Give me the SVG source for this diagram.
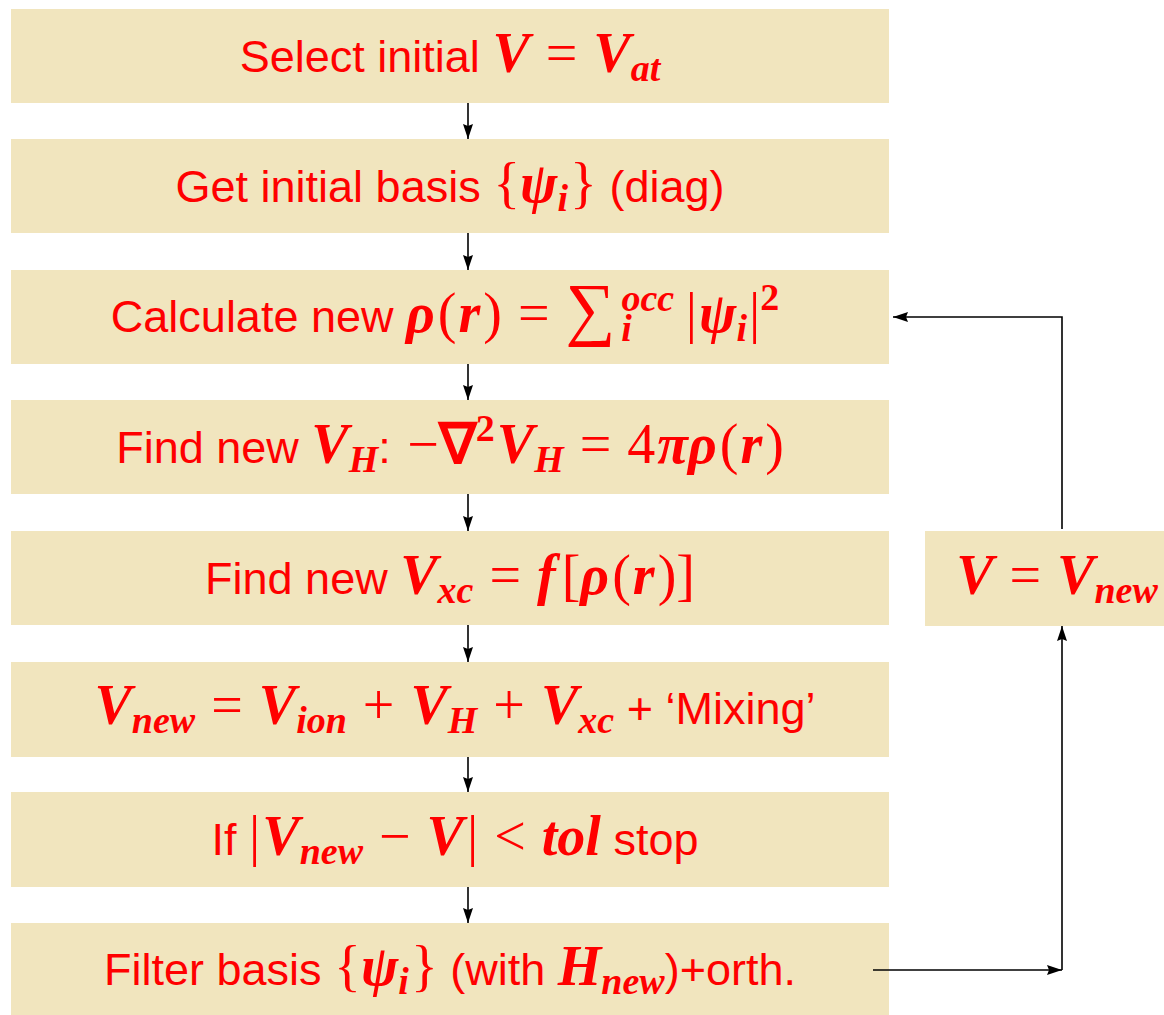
<svg xmlns="http://www.w3.org/2000/svg" width="1164" height="1015" viewBox="0 0 1164 1015">
<style>
.box{fill:#F1E5BE}
.t{font-family:"Liberation Sans",Arial,sans-serif;font-size:45px;fill:#FF0000;text-anchor:middle}
.m{font-family:"Liberation Serif","Times New Roman",serif;font-style:italic;font-weight:bold;font-size:56px}
.r{font-family:"Liberation Serif","Times New Roman",serif;font-style:normal;font-weight:normal;font-size:56px}
.s{font-size:38px}
.c{fill:none;stroke:#000;stroke-width:1.6}
</style>
<defs>
<marker id="ah" markerUnits="userSpaceOnUse" markerWidth="16" markerHeight="12" refX="15" refY="5" orient="auto" viewBox="0 0 16 10">
<path d="M0,0 L15,5 L0,10 L2,5 Z" fill="#000"/>
</marker>
</defs>
<g id="n1"><rect class="box" x="11" y="9" width="878" height="94"/>
<text class="t" x="450" y="72">Select initial <tspan class="m">V</tspan><tspan class="r" dx="16">=</tspan><tspan class="m" dx="16">V</tspan><tspan class="m s" dy="9">at</tspan></text></g>
<g id="n2"><rect class="box" x="11" y="139" width="878" height="94"/>
<text class="t" x="450" y="202">Get initial basis <tspan class="r">{</tspan><tspan class="m">ψ</tspan><tspan class="m s" dy="9">i</tspan><tspan class="r" dy="-9" dx="2">}</tspan> (diag)</text></g>
<g id="n3"><rect class="box" x="11" y="270" width="878" height="94"/>
<text class="t" x="445" y="332">Calculate new <tspan class="m">ρ</tspan><tspan class="r" dx="3">(</tspan><tspan class="m" dx="2">r</tspan><tspan class="r" dx="3">)</tspan><tspan class="r" dx="16">=</tspan><tspan class="r" dx="16" style="font-size:70px">∑</tspan><tspan class="m s" dx="6" dy="-21">occ</tspan><tspan class="m s" dx="-53" dy="30">i</tspan><tspan class="r" dx="54" dy="-9">|</tspan><tspan class="m" dx="2">ψ</tspan><tspan class="m s" dy="9">i</tspan><tspan class="r" dy="-9" dx="2">|</tspan><tspan class="r s" dy="-22" style="font-weight:bold">2</tspan></text></g>
<g id="n4"><rect class="box" x="11" y="400" width="878" height="94"/>
<text class="t" x="450" y="463">Find new <tspan class="m">V</tspan><tspan class="m s" dy="9">H</tspan><tspan dy="-9">: </tspan><tspan class="r" dx="4">−</tspan><tspan class="r" style="font-weight:bold">∇</tspan><tspan class="r s" dy="-22" style="font-weight:bold">2</tspan><tspan class="m" dy="22" dx="2">V</tspan><tspan class="m s" dy="9">H</tspan><tspan class="r" dy="-9" dx="16">=</tspan><tspan class="r" dx="16">4</tspan><tspan class="m" dx="2">πρ</tspan><tspan class="r" dx="3">(</tspan><tspan class="m" dx="2">r</tspan><tspan class="r" dx="3">)</tspan></text></g>
<g id="n5"><rect class="box" x="11" y="531" width="878" height="94"/>
<text class="t" x="450" y="594">Find new <tspan class="m">V</tspan><tspan class="m s" dy="9">xc</tspan><tspan class="r" dy="-9" dx="16">=</tspan><tspan class="m" dx="16">f</tspan><tspan class="r" dx="6">[</tspan><tspan class="m">ρ</tspan><tspan class="r" dx="3">(</tspan><tspan class="m" dx="2">r</tspan><tspan class="r" dx="3">)]</tspan></text></g>
<g id="n6"><rect class="box" x="11" y="662" width="878" height="95"/>
<text class="t" x="455" y="724"><tspan class="m">V</tspan><tspan class="m s" dy="9">new</tspan><tspan class="r" dy="-9" dx="16">=</tspan><tspan class="m" dx="16">V</tspan><tspan class="m s" dy="9">ion</tspan><tspan class="r" dy="-9" dx="16">+</tspan><tspan class="m" dx="16">V</tspan><tspan class="m s" dy="9">H</tspan><tspan class="r" dy="-9" dx="16">+</tspan><tspan class="m" dx="16">V</tspan><tspan class="m s" dy="9">xc</tspan><tspan dy="-9"> + ‘Mixing’</tspan></text></g>
<g id="n7"><rect class="box" x="11" y="792" width="878" height="95"/>
<text class="t" x="455" y="855">If <tspan class="r">|</tspan><tspan class="m" dx="2">V</tspan><tspan class="m s" dy="9">new</tspan><tspan class="r" dy="-9" dx="16">−</tspan><tspan class="m" dx="16">V</tspan><tspan class="r" dx="3">|</tspan><tspan class="r" dx="16">&lt;</tspan><tspan class="m" dx="16">tol</tspan> stop</text></g>
<g id="n8"><rect class="box" x="11" y="923" width="878" height="92"/>
<text class="t" x="450" y="985">Filter basis <tspan class="r">{</tspan><tspan class="m">ψ</tspan><tspan class="m s" dy="9">i</tspan><tspan class="r" dy="-9" dx="2">}</tspan> (with <tspan class="m">H</tspan><tspan class="m s" dy="9">new</tspan><tspan dy="-9">)+orth.</tspan></text></g>
<g id="n9"><rect class="box" x="925" y="531" width="239" height="95"/>
<text class="t" x="1057" y="594"><tspan class="m">V</tspan><tspan class="r" dx="16">=</tspan><tspan class="m" dx="16">V</tspan><tspan class="m s" dy="9">new</tspan></text></g>
<g id="connectors">
<line class="c" x1="468" y1="103" x2="468" y2="139" marker-end="url(#ah)"/>
<line class="c" x1="468" y1="233" x2="468" y2="270" marker-end="url(#ah)"/>
<line class="c" x1="468" y1="364" x2="468" y2="400" marker-end="url(#ah)"/>
<line class="c" x1="468" y1="494" x2="468" y2="531" marker-end="url(#ah)"/>
<line class="c" x1="468" y1="625" x2="468" y2="662" marker-end="url(#ah)"/>
<line class="c" x1="468" y1="757" x2="468" y2="792" marker-end="url(#ah)"/>
<line class="c" x1="468" y1="887" x2="468" y2="923" marker-end="url(#ah)"/>
<line class="c" x1="873" y1="970" x2="1062" y2="970" marker-end="url(#ah)"/>
<line class="c" x1="1062" y1="970" x2="1062" y2="626" marker-end="url(#ah)"/>
<polyline class="c" points="1062,529 1062,317 893,317" marker-end="url(#ah)"/>
</g>
</svg>
